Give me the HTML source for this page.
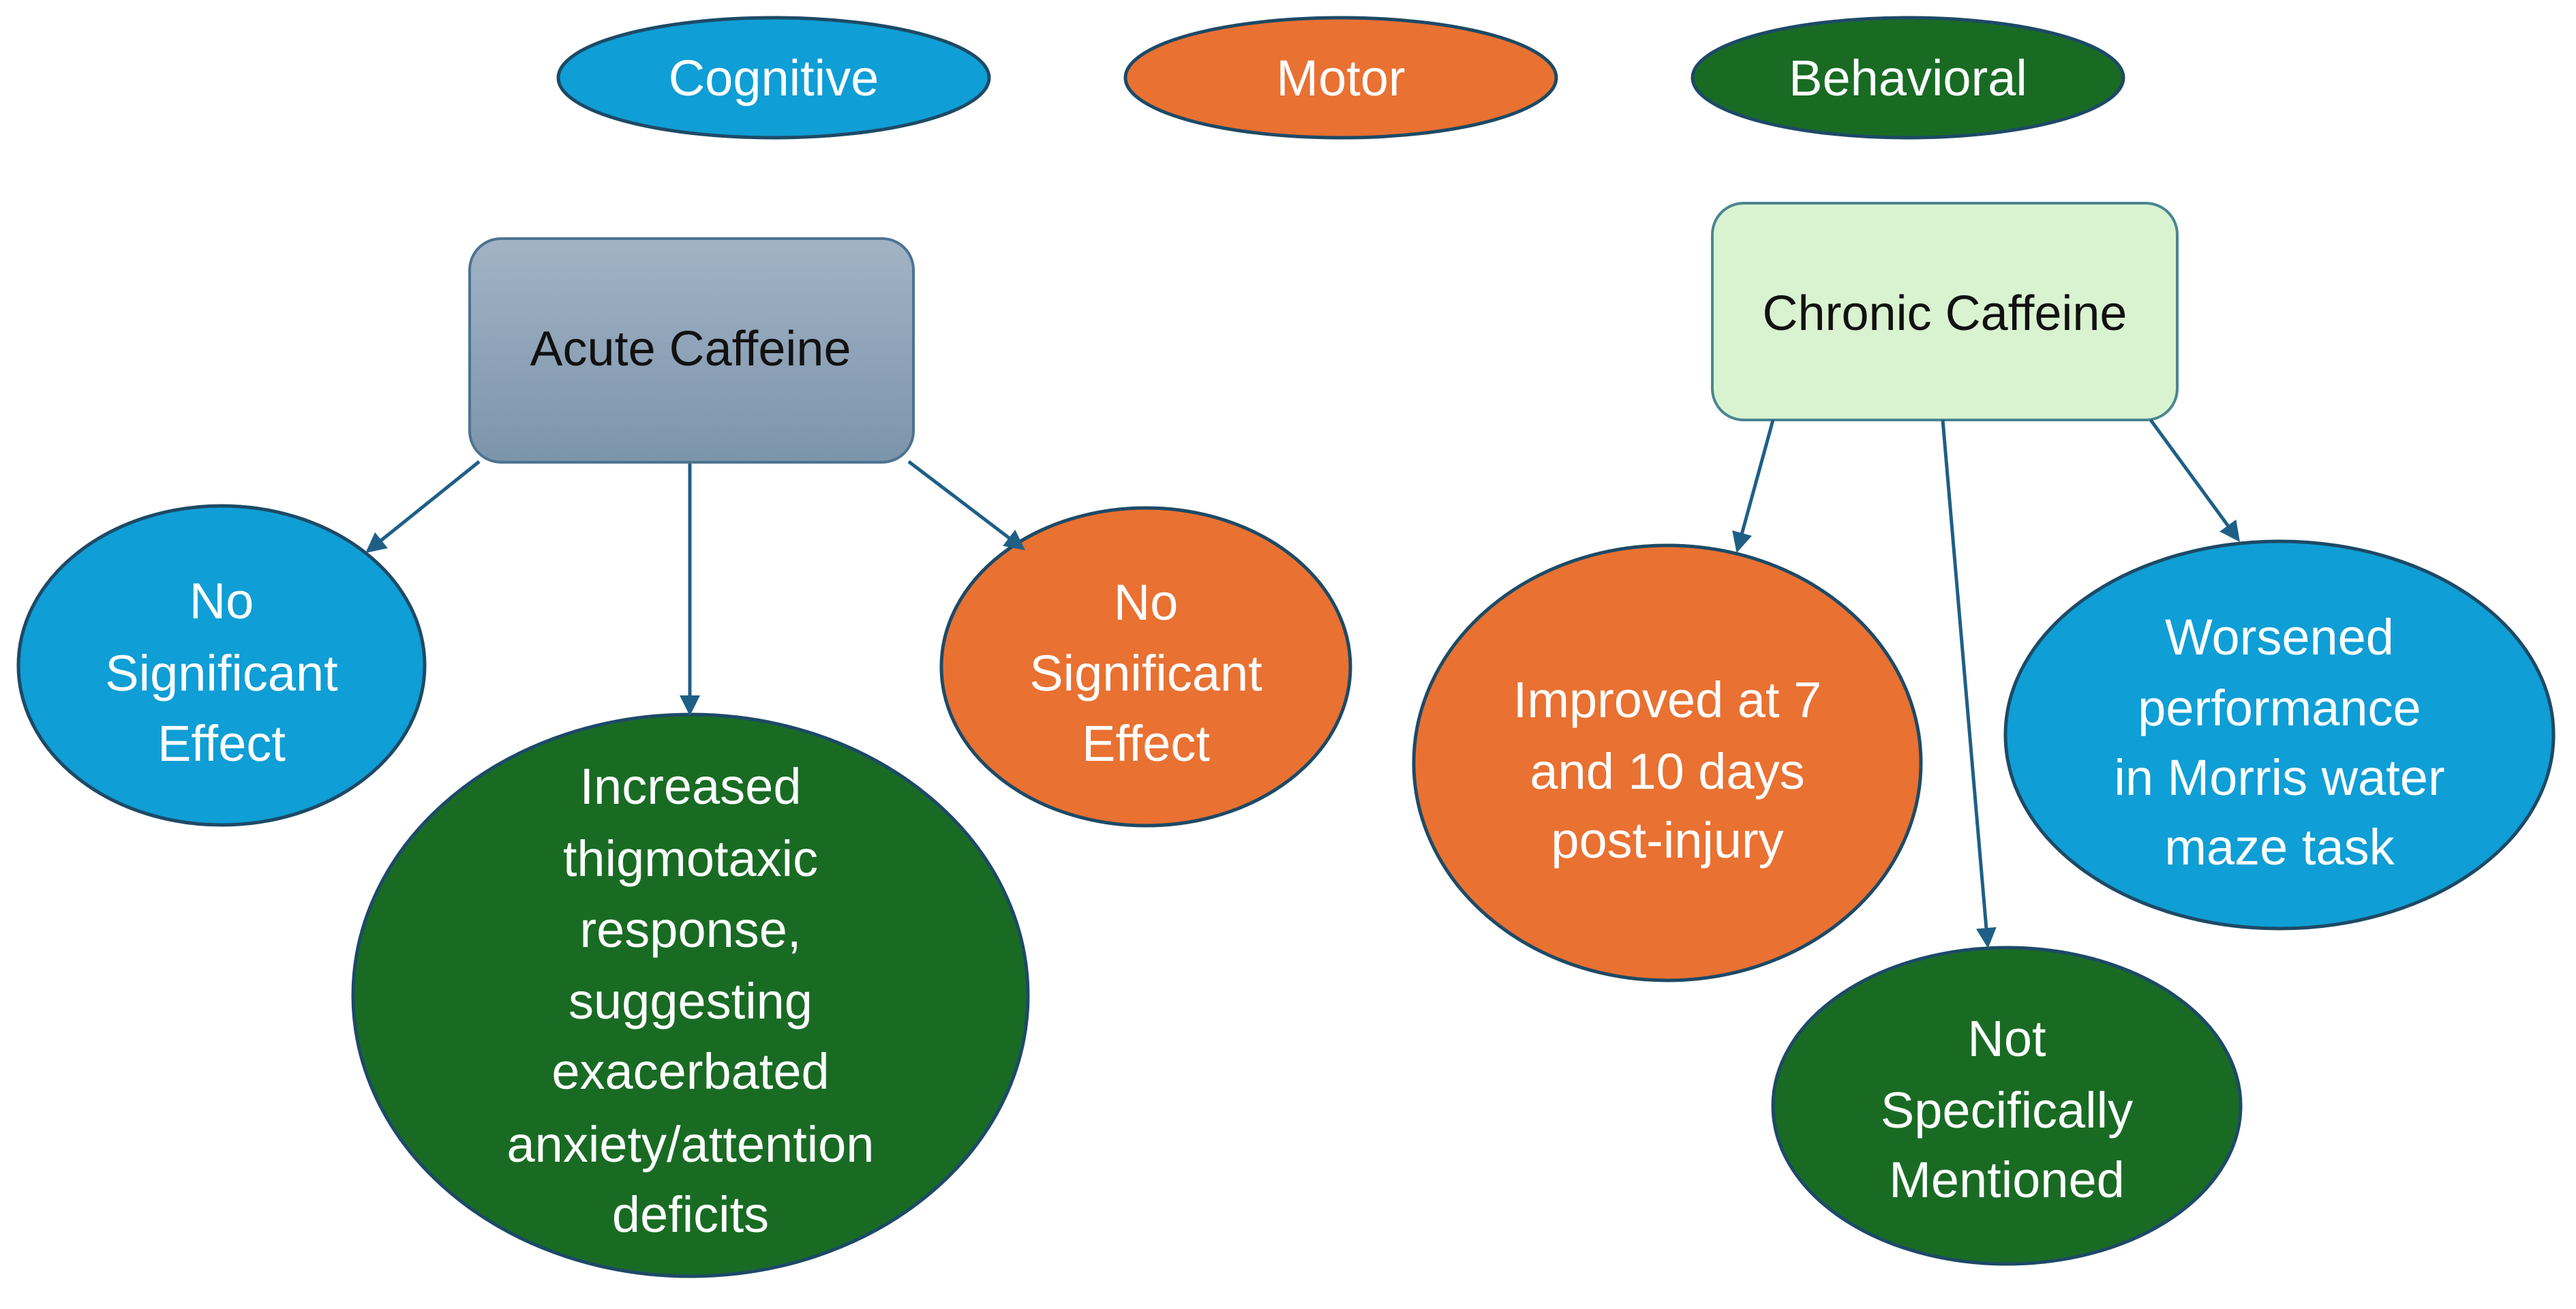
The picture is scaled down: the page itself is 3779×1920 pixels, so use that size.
<!DOCTYPE html>
<html><head><meta charset="utf-8"><style>
html,body{margin:0;padding:0;background:#fff;}
svg{display:block;}
text{font-family:"Liberation Sans",sans-serif;text-anchor:middle;}
</style></head><body>
<svg width="3779" height="1920" viewBox="0 0 3779 1920" xmlns="http://www.w3.org/2000/svg">
<defs>
<linearGradient id="g1" x1="0" y1="0" x2="0" y2="1">
<stop offset="0" stop-color="#a2b3c5"/><stop offset="1" stop-color="#7c94ab"/>
</linearGradient>
<marker id="ah" markerWidth="6" markerHeight="6" refX="5" refY="3" orient="auto" markerUnits="strokeWidth">
<path d="M0,0 L6,3 L0,6 Z" fill="#1f5f86"/>
</marker>
</defs>
<g stroke="#1d4a66" stroke-width="5">
<ellipse cx="1135" cy="114" rx="316" ry="88" fill="#0f9ed5"/>
<ellipse cx="1967" cy="114" rx="316" ry="88" fill="#e97132"/>
<ellipse cx="2799" cy="114" rx="316" ry="88" fill="#196b24"/>
</g>
<g fill="#fff" font-size="74">
<text x="1135" y="140">Cognitive</text>
<text x="1967" y="140">Motor</text>
<text x="2799" y="140">Behavioral</text>
</g>
<rect x="689" y="350" width="651" height="328" rx="46" fill="url(#g1)" stroke="#4d7391" stroke-width="4"/>
<text x="1013" y="536" font-size="72" fill="#111">Acute Caffeine</text>
<rect x="2512" y="298" width="682" height="318" rx="46" fill="#d9f2d0" stroke="#4a8590" stroke-width="4"/>
<text x="2853" y="484" font-size="72" fill="#111">Chronic Caffeine</text>
<g stroke="#1d4a66" stroke-width="5">
<ellipse cx="325" cy="976" rx="298" ry="234" fill="#0f9ed5"/>
<ellipse cx="1013" cy="1460" rx="495" ry="412" fill="#196b24"/>
<ellipse cx="1681" cy="978" rx="300" ry="233" fill="#e97132"/>
<ellipse cx="2446" cy="1119" rx="372" ry="319" fill="#e97132"/>
<ellipse cx="3344" cy="1078" rx="402" ry="284" fill="#0f9ed5"/>
<ellipse cx="2944" cy="1622" rx="343" ry="232" fill="#196b24"/>
</g>
<g stroke="#1f5f86" stroke-width="5" marker-end="url(#ah)" fill="none">
<line x1="703" y1="677" x2="540" y2="808"/>
<line x1="1012" y1="680" x2="1012" y2="1045"/>
<line x1="1333" y1="677" x2="1500" y2="804"/>
<line x1="2601" y1="616" x2="2549" y2="806"/>
<line x1="2850" y1="616" x2="2916" y2="1386"/>
<line x1="3155" y1="616" x2="3283" y2="791"/>
</g>
<g fill="#fff" font-size="74">
<text x="325" y="907">No</text><text x="325" y="1013">Significant</text><text x="325" y="1116">Effect</text>
<text x="1681" y="909">No</text><text x="1681" y="1013">Significant</text><text x="1681" y="1116">Effect</text>
<text x="1013" y="1179">Increased</text>
<text x="1013" y="1285">thigmotaxic</text>
<text x="1013" y="1389">response,</text>
<text x="1013" y="1494">suggesting</text>
<text x="1013" y="1597">exacerbated</text>
<text x="1013" y="1704">anxiety/attention</text>
<text x="1013" y="1807">deficits</text>
<text x="2446" y="1052">Improved at 7</text>
<text x="2446" y="1157">and 10 days</text>
<text x="2446" y="1258">post-injury</text>
<text x="3344" y="960">Worsened</text>
<text x="3344" y="1064">performance</text>
<text x="3344" y="1166">in Morris water</text>
<text x="3344" y="1268">maze task</text>
<text x="2944" y="1549">Not</text>
<text x="2944" y="1654">Specifically</text>
<text x="2944" y="1756">Mentioned</text>
</g>
</svg>
</body></html>
